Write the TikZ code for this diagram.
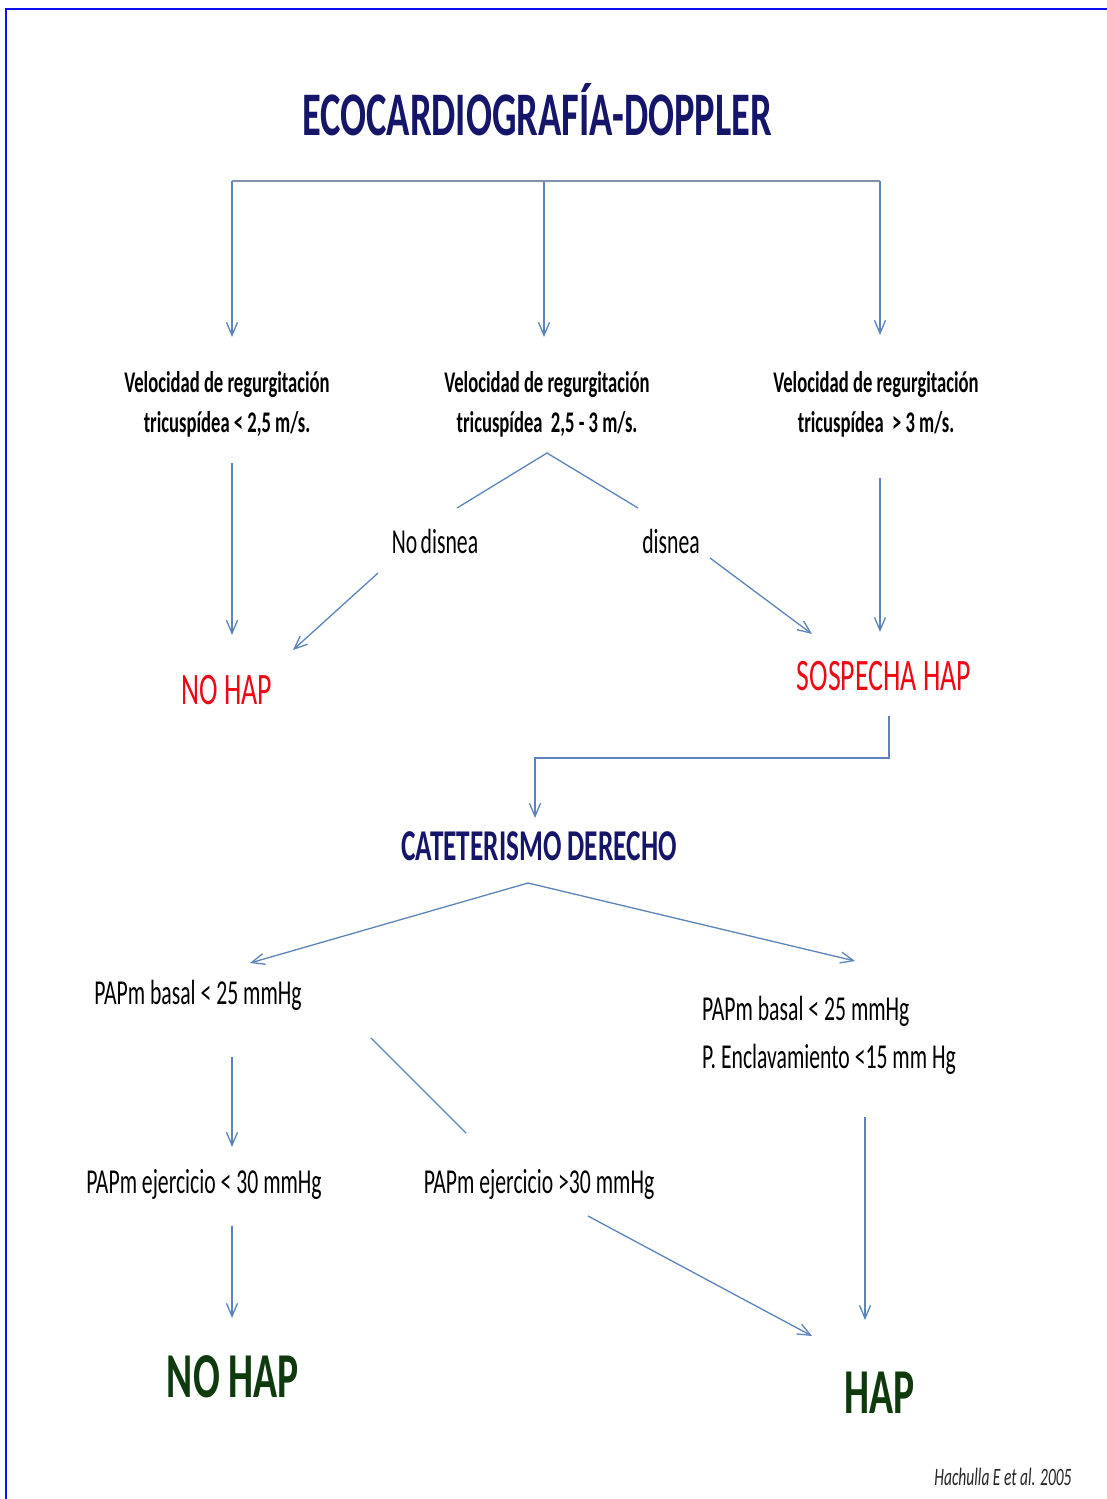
\documentclass[tikz,border=0pt]{standalone}
\usepackage{fontspec}
\setmainfont{Carlito}
\newfontfamily\cf[FakeStretch=0.62]{Carlito}
\usetikzlibrary{arrows.meta}
\definecolor{navy}{HTML}{15156A}
\definecolor{conncol}{HTML}{5B84BA}
\definecolor{barcol}{HTML}{7F93AD}
\definecolor{hapred}{HTML}{EE0A14}
\definecolor{hapgreen}{HTML}{0E3A0E}
\definecolor{framecol}{HTML}{1010F0}
\tikzset{
  conn/.style={draw=conncol, line width=1.3pt},
  arr/.style={conn, -{Straight Barb[length=13pt,width=11pt]}},
  title/.style={font={\cf\bfseries\fontsize{62}{70}\selectfont}, text=navy, anchor=base, inner sep=0pt},
  vel/.style={font={\cf\bfseries\fontsize{30}{40}\selectfont}, align=center, anchor=center, inner sep=0pt},
  lab/.style={font={\cf\fontsize{35}{42}\selectfont}, anchor=base, inner sep=0pt},
  redres/.style={font={\cf\fontsize{45}{50}\selectfont}, text=hapred, anchor=base, inner sep=0pt},
  cath/.style={font={\cf\bfseries\fontsize{44}{50}\selectfont}, text=navy, anchor=base, inner sep=0pt},
  pap/.style={font={\cf\fontsize{35}{48}\selectfont}, anchor=base, inner sep=0pt},
  greenres/.style={font={\cf\bfseries\fontsize{64}{70}\selectfont}, text=hapgreen, anchor=base, inner sep=0pt},
  cite/.style={font={\cf\itshape\fontsize{25}{30}\selectfont}, text=black!85, anchor=base, inner sep=0pt},
}
\begin{document}
\begin{tikzpicture}[x=1pt,y=-1pt]
\useasboundingbox (0,0) rectangle (1107,1499);
\fill[white] (0,0) rectangle (1107,1499);
\draw[framecol, line width=2.5pt] (6,1499) -- (6,9) -- (1107,9);

% texts
\node[title] (title) at (537,135) {ECOCARDIOGRAFÍA-DOPPLER};
\node[vel] (vL) at (227,404) {Velocidad de regurgitación\\tricuspídea < 2,5 m/s.};
\node[vel] (vM) at (547,404) {Velocidad de regurgitación\\tricuspídea \ 2,5 - 3 m/s.};
\node[vel] (vR) at (876,404) {Velocidad de regurgitación\\tricuspídea \ > 3 m/s.};
\node[lab] (nod) at (435,553) {No\hspace{0.1em}disnea};
\node[lab] (dis) at (671,553) {disnea};
\node[redres] (nohap1) at (227,704) {NO HAP};
\node[redres] (sosp) at (884,690) {SOSPECHA HAP};
\node[cath] (cat) at (539,860) {CATETERISMO DERECHO};
\node[pap] (papL) at (198,1004) {PAPm basal < 25 mmHg};
\node[pap, anchor=base west] (papR1) at (702,1020) {PAPm basal < 25 mmHg};
\node[pap, anchor=base west] (papR2) at (702,1068) {P. Enclavamiento <15 mm Hg};
\node[pap] (ejL) at (204,1193) {PAPm ejercicio < 30 mmHg};
\node[pap] (ejR) at (539,1193) {PAPm ejercicio >30 mmHg};
\node[greenres] (nohap2) at (233,1397) {NO HAP};
\node[greenres] (hap) at (880,1413) {HAP};
\node[cite] (cite) at (1003,1485) {Hachulla E et al. 2005};

% connector points
\coordinate (bL) at (232,181);
\coordinate (bM) at (544,181);
\coordinate (bR) at (880,181);
\coordinate (eL) at (232,337);
\coordinate (eM) at (544,337);
\coordinate (eR) at (880,335);
\coordinate (vLb) at (232,463);
\coordinate (nohap1t) at (232,635);
\coordinate (peak) at (547,453);
\coordinate (nodt) at (457,508);
\coordinate (dist) at (638,508);
\coordinate (nodb) at (378,573);
\coordinate (nohap1r) at (293,650);
\coordinate (disb) at (710,558);
\coordinate (sospl) at (812,634);
\coordinate (vRb) at (880,478);
\coordinate (sospt) at (880,632);
\coordinate (sospb) at (889,716);
\coordinate (elbowR) at (889,758);
\coordinate (elbowL) at (535,758);
\coordinate (catt) at (535,818);
\coordinate (catb) at (528,883);
\coordinate (papLt) at (250,963);
\coordinate (papRt) at (855,961);
\coordinate (papLb) at (232,1057);
\coordinate (ejLt) at (232,1147);
\coordinate (papLd) at (371,1038);
\coordinate (ejRt) at (466,1133);
\coordinate (ejLb) at (232,1226);
\coordinate (nohap2t) at (232,1318);
\coordinate (ejRb) at (588,1216);
\coordinate (hapl) at (812,1336);
\coordinate (papRb) at (865,1117);
\coordinate (hapt) at (865,1320);

% connectors
\draw[arr] (bL) -- (eL);
\draw[arr] (bM) -- (eM);
\draw[arr] (bR) -- (eR);
\draw[draw=barcol, line width=2pt] (bL) -- (bR);
\draw[arr] (vLb) -- (nohap1t);
\draw[conn] (nodt) -- (peak) -- (dist);
\draw[arr] (nodb) -- (nohap1r);
\draw[arr] (disb) -- (sospl);
\draw[arr] (vRb) -- (sospt);
\draw[arr] (sospb) -- (elbowR) -- (elbowL) -- (catt);
\draw[arr] (catb) -- (papLt);
\draw[arr] (catb) -- (papRt);
\draw[arr] (papLb) -- (ejLt);
\draw[conn] (papLd) -- (ejRt);
\draw[arr] (ejLb) -- (nohap2t);
\draw[arr] (ejRb) -- (hapl);
\draw[arr] (papRb) -- (hapt);
\end{tikzpicture}
\end{document}
